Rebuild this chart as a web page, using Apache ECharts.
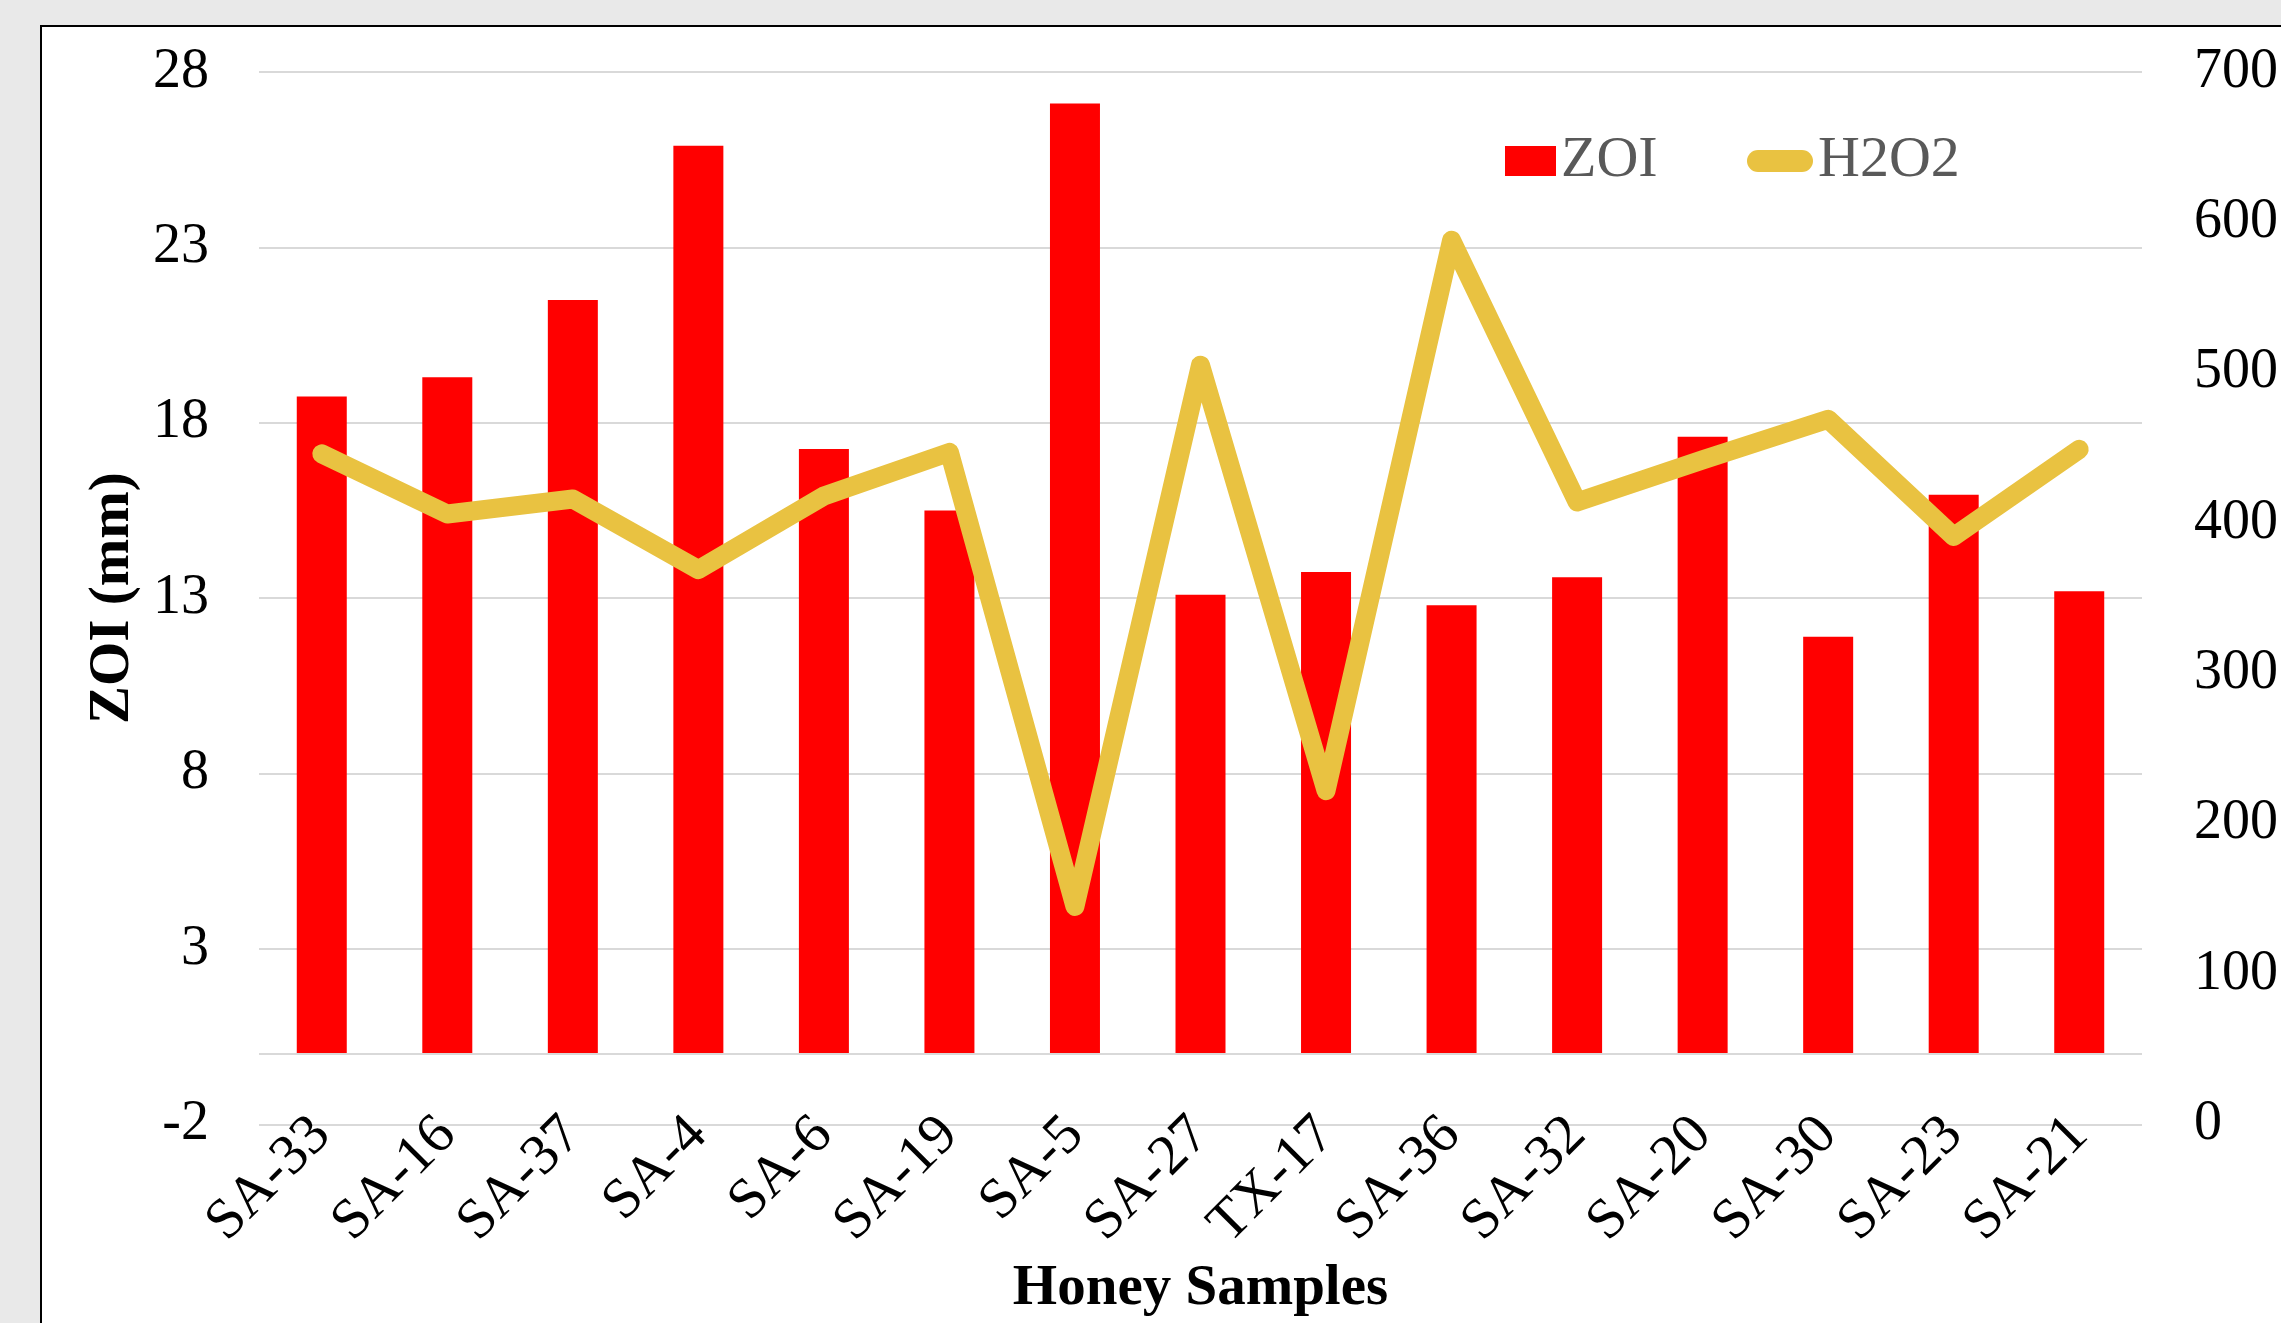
<!DOCTYPE html>
<html>
<head>
<meta charset="utf-8">
<script src="https://cdn.jsdelivr.net/npm/echarts@6/dist/echarts.min.js"></script>
<style>
  html, body { margin: 0; padding: 0; width: 2281px; height: 1323px; overflow: hidden; background: #e9e9e9; }
  #frame { position: absolute; left: 40px; top: 25px; width: 2400px; height: 1500px; background: #fff; border: 2px solid #000; box-sizing: border-box; }
  #chart { position: absolute; left: 0; top: 0; width: 2281px; height: 1323px; }
</style>
</head>
<body>
<div id="frame"></div>
<div id="chart"></div>
<script>
const categories = ['SA-33', 'SA-16', 'SA-37', 'SA-4', 'SA-6', 'SA-19', 'SA-5', 'SA-27', 'TX-17', 'SA-36', 'SA-32', 'SA-20', 'SA-30', 'SA-23', 'SA-21'];
const zoiValues = [18.75, 19.3, 21.5, 25.9, 17.25, 15.5, 27.1, 13.1, 13.75, 12.8, 13.6, 17.6, 11.9, 15.95, 13.2];
const h2o2Values = [446, 406, 416, 369, 418, 447, 145, 505, 222, 588, 414, 442, 469, 391, 449];
const leftAxis = { min: -2, max: 28, interval: 5 };
const rightAxis = { min: 0, max: 700, interval: 100 };

const FONT = '"Liberation Serif", "Times New Roman", serif';
const chart = echarts.init(document.getElementById('chart'), null, { renderer: 'canvas' });

chart.setOption({
  backgroundColor: 'transparent',
  animation: false,
  textStyle: { fontFamily: FONT },
  grid: { left: 259, right: 136, top: 72, bottom: 196, containLabel: false },
  legend: [
    {
      data: ['ZOI'], left: 1500, top: 127, icon: 'rect', itemWidth: 51, itemHeight: 30,
      textStyle: { fontFamily: FONT, fontSize: 58, color: '#595959' }
    },
    {
      data: ['H2O2'], left: 1742, top: 127,
      icon: 'path://M11,0 L55,0 A11,11 0 0 1 55,22 L11,22 A11,11 0 0 1 11,0 Z',
      itemWidth: 66, itemHeight: 22,
      textStyle: { fontFamily: FONT, fontSize: 58, color: '#595959' }
    }
  ],
  xAxis: {
    type: 'category',
    data: categories,
    boundaryGap: true,
    axisLine: { show: false },
    axisTick: { show: false },
    axisLabel: { interval: 0, rotate: 45, margin: 2, fontFamily: FONT, fontSize: 57, color: '#000' },
    name: 'Honey Samples',
    nameLocation: 'middle',
    nameGap: 123,
    nameTextStyle: { fontFamily: FONT, fontSize: 57, fontWeight: 'bold', color: '#000' }
  },
  yAxis: [
    {
      type: 'value',
      min: leftAxis.min, max: leftAxis.max, interval: leftAxis.interval,
      axisLine: { show: false },
      axisTick: { show: false },
      axisLabel: { margin: 50, fontFamily: FONT, fontSize: 56, color: '#000' },
      splitLine: { show: true, lineStyle: { color: '#d9d9d9', width: 2 } },
      name: 'ZOI (mm)',
      nameLocation: 'middle',
      nameGap: 110,
      nameTextStyle: { fontFamily: FONT, fontSize: 57, fontWeight: 'bold', color: '#000' }
    },
    {
      type: 'value',
      position: 'right',
      min: rightAxis.min, max: rightAxis.max, interval: rightAxis.interval,
      axisLine: { show: false },
      axisTick: { show: false },
      axisLabel: { margin: 52, fontFamily: FONT, fontSize: 56, color: '#000' },
      splitLine: { show: false }
    }
  ],
  series: [
    {
      name: 'ZOI',
      type: 'bar',
      yAxisIndex: 0,
      data: zoiValues,
      barWidth: 50,
      itemStyle: { color: '#ff0000' },
      markLine: {
        silent: true, symbol: 'none', label: { show: false },
        lineStyle: { color: '#d9d9d9', width: 2, type: 'solid' },
        data: [{ yAxis: 0 }]
      },
      z: 2
    },
    {
      name: 'H2O2',
      type: 'line',
      yAxisIndex: 1,
      data: h2o2Values,
      symbol: 'none',
      lineStyle: { color: '#e9c241', width: 19, cap: 'round', join: 'round' },
      itemStyle: { color: '#e9c241' },
      z: 3
    }
  ]
});
</script>
</body>
</html>
